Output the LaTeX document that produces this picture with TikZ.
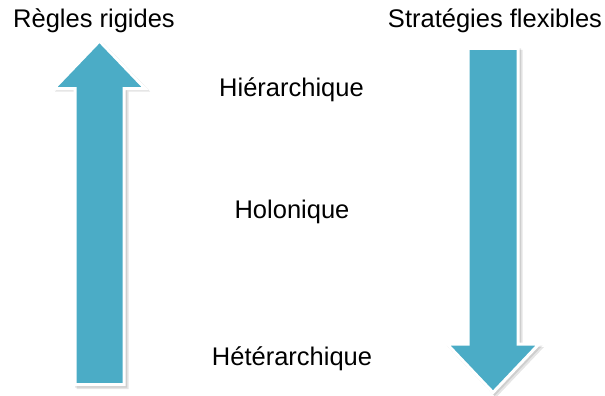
\documentclass[tikz,border=0pt]{standalone}
\usepackage{fontspec}
\setmainfont{Liberation Sans}
\definecolor{arrowblue}{HTML}{4BACC6}
\tikzset{
  bigarrow/.style={fill=arrowblue, draw=white, line width=3pt, line join=miter},
  arrowshadow/.style={fill=black, opacity=0.10, draw=none},
  lbl/.style={anchor=base, inner sep=0pt, font=\fontsize{25.5}{30}\selectfont, text=black}
}
\begin{document}
\begin{tikzpicture}[x=1pt, y=-1pt]
\useasboundingbox (0,0) rectangle (605,396);
% left arrow (up)
\foreach \d in {1.5,3} {
  \fill[arrowshadow, shift={(\d,\d)}] (99.5,39) -- (147,88.5) -- (125.5,88.5) -- (125.5,386) -- (73.5,386) -- (73.5,88.5) -- (52,88.5) -- cycle;
}
\path[bigarrow] (99.5,41) -- (145,88.5) -- (124,88.5) -- (124,384.5) -- (75,384.5) -- (75,88.5) -- (54,88.5) -- cycle;
% right arrow (down)
\foreach \d in {1.5,3} {
  \fill[arrowshadow, shift={(\d,\d)}] (466.5,47) -- (519.5,47) -- (519.5,344) -- (541,344) -- (493,394.5) -- (445,344) -- (466.5,344) -- cycle;
}
\path[bigarrow] (468,48.5) -- (518,48.5) -- (518,344) -- (539,344) -- (493,392.5) -- (447,344) -- (468,344) -- cycle;
% labels
\node[lbl] (regles) at (94,28) {Règles rigides};
\node[lbl] (strat) at (495,28) {Stratégies flexibles};
\node[lbl] (hier) at (291.5,96) {Hiérarchique};
\node[lbl] (holo) at (292,218.3) {Holonique};
\node[lbl] (heter) at (292,365) {Hétérarchique};
\end{tikzpicture}
\end{document}
